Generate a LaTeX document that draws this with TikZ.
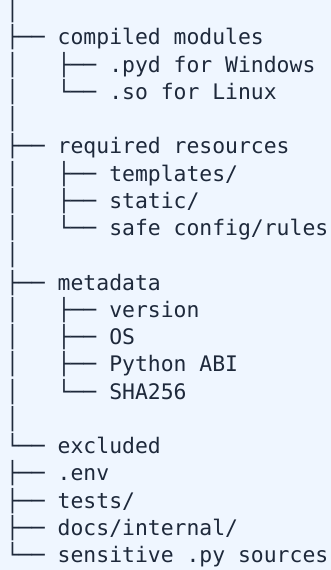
\documentclass[tikz,border=0pt]{standalone}
\usepackage{fontspec}
\newfontfamily\treefont{DejaVu Sans Mono}
\definecolor{bgblue}{HTML}{EFF6FF}
\definecolor{ink}{HTML}{1E293B}
\begin{document}
\begin{tikzpicture}[x=1pt,y=1pt,
  treeline/.style={anchor=base west, inner sep=0pt, outer sep=0pt,
    text=ink, font=\treefont\fontsize{21.4}{27}\selectfont}]
\fill[bgblue] (0,0) rectangle (331,-570);
\useasboundingbox (0,0) rectangle (331,-570);
\node[treeline] (l0)  at (6.2,-17.65)  {│};
\node[treeline] (l1)  at (6.2,-44.90)  {├──~compiled~modules};
\node[treeline] (l2)  at (6.2,-72.15)  {│~~~├──~.pyd~for~Windows};
\node[treeline] (l3)  at (6.2,-99.40)  {│~~~└──~.so~for~Linux};
\node[treeline] (l4)  at (6.2,-126.65) {│};
\node[treeline] (l5)  at (6.2,-153.90) {├──~required~resources};
\node[treeline] (l6)  at (6.2,-181.15) {│~~~├──~templates/};
\node[treeline] (l7)  at (6.2,-208.40) {│~~~├──~static/};
\node[treeline] (l8)  at (6.2,-235.65) {│~~~└──~safe~config/rules};
\node[treeline] (l9)  at (6.2,-262.90) {│};
\node[treeline] (l10) at (6.2,-290.15) {├──~metadata};
\node[treeline] (l11) at (6.2,-317.40) {│~~~├──~version};
\node[treeline] (l12) at (6.2,-344.65) {│~~~├──~OS};
\node[treeline] (l13) at (6.2,-371.90) {│~~~├──~Python~ABI};
\node[treeline] (l14) at (6.2,-399.15) {│~~~└──~SHA256};
\node[treeline] (l15) at (6.2,-426.40) {│};
\node[treeline] (l16) at (6.2,-453.65) {└──~excluded};
\node[treeline] (l17) at (6.2,-480.90) {├──~.env};
\node[treeline] (l18) at (6.2,-508.15) {├──~tests/};
\node[treeline] (l19) at (6.2,-535.40) {├──~docs/internal/};
\node[treeline] (l20) at (6.2,-562.65) {└──~sensitive~.py~sources};
\end{tikzpicture}
\end{document}
